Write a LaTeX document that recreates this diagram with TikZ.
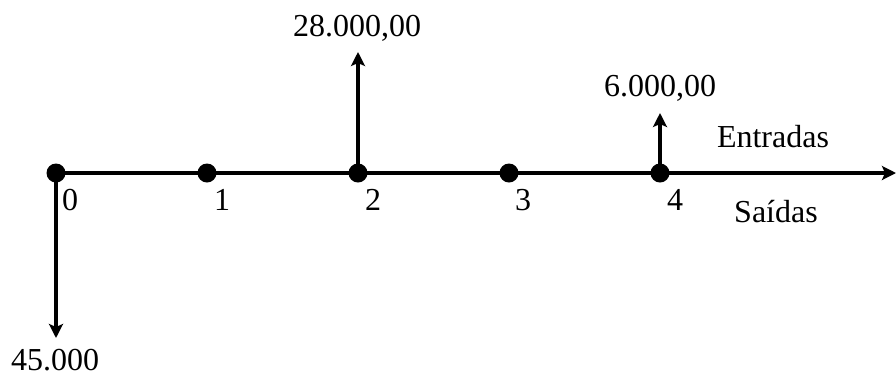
\documentclass[tikz,border=0pt]{standalone}
\usepackage{fontspec}
\setmainfont{Liberation Serif}
\usetikzlibrary{arrows.meta}
\begin{document}
\begin{tikzpicture}[x=1pt,y=-1pt,
  dot/.style={circle,fill=black,inner sep=0pt,minimum size=19pt},
  lbl/.style={anchor=base,inner sep=0pt,font=\fontsize{32}{36}\selectfont},
  flow/.style={line width=4pt,-{Stealth[length=14pt,width=14pt,inset=3pt]}}]
\useasboundingbox (0,0) rectangle (896,376);
\coordinate (start) at (50,173);
\coordinate (end) at (896,173);
\draw[flow] (start) -- (end);
\node[dot] (d0) at (56,173) {};
\node[dot] (d1) at (207,173) {};
\node[dot] (d2) at (358,173) {};
\node[dot] (d3) at (509,173) {};
\node[dot] (d4) at (660,173) {};
\node[lbl] (n0) at (70,210) {0};
\node[lbl] (n1) at (222,210) {1};
\node[lbl] (n2) at (373,210) {2};
\node[lbl] (n3) at (523,210) {3};
\node[lbl] (n4) at (675,210) {4};
\coordinate (t0) at (56,338);
\coordinate (t2) at (358,52);
\coordinate (t4) at (660,113);
\draw[flow] (d0.center) -- (t0);
\draw[flow] (d2.center) -- (t2);
\draw[flow] (d4.center) -- (t4);
\node[lbl] (v0) at (55,370) {45.000};
\node[lbl] (v2) at (357,36) {28.000,00};
\node[lbl] (v4) at (660,96) {6.000,00};
\node[lbl] (ent) at (773,147) {Entradas};
\node[lbl] (sai) at (776,222) {Saídas};
\end{tikzpicture}
\end{document}
